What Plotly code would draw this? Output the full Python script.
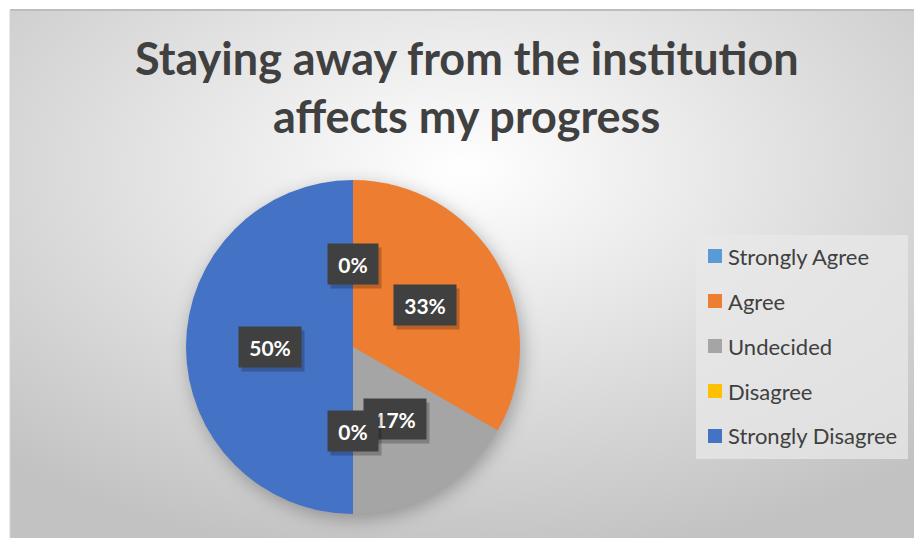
import base64
import math
import plotly.graph_objects as go

# Survey responses
categories = ["Strongly Agree", "Agree", "Undecided", "Disagree", "Strongly Disagree"]
responses = [0, 2, 1, 0, 3]
slice_colors = ["#5B9BD5", "#ED7D31", "#A5A5A5", "#FFC000", "#4472C4"]
title_lines = ["Staying away from the institution", "affects my progress"]

W, H = 914, 538
FONT = "Lato"
TEXT_COLOR = "#404040"


def px(x):
    return x / W


def py(y):
    return 1 - y / H


# chart area (pixels)
AREA_X0, AREA_Y0, AREA_X1, AREA_Y1 = 10, 10, 914, 538
# pie placement (pixels)
PIE_CX, PIE_CY, PIE_R = 353, 347, 167

total = sum(responses)
percent_labels = [f"{round(100 * v / total)}%" for v in responses]

# background: soft radial gradient with a blurred pie shadow
aw, ah = AREA_X1 - AREA_X0, AREA_Y1 - AREA_Y0
svg = (
    f'<svg xmlns="http://www.w3.org/2000/svg" width="{aw}" height="{ah}" viewBox="0 0 {aw} {ah}" preserveAspectRatio="none">'
    '<defs><radialGradient id="g" cx="0.5" cy="0.3" r="0.75">'
    '<stop offset="0" stop-color="#ffffff"/><stop offset="1" stop-color="#c2c2c2"/>'
    '</radialGradient>'
    '<filter id="b" x="-50%" y="-50%" width="200%" height="200%"><feGaussianBlur stdDeviation="9"/></filter></defs>'
    f'<rect width="{aw}" height="{ah}" fill="url(#g)"/>'
    f'<circle cx="{PIE_CX - AREA_X0 + 3}" cy="{PIE_CY - AREA_Y0 + 5}" r="{PIE_R}" fill="rgba(0,0,0,0.28)" filter="url(#b)"/>'
    '</svg>'
)
bg_uri = "data:image/svg+xml;base64," + base64.b64encode(svg.encode()).decode()

fig = go.Figure()
fig.add_trace(go.Pie(
    labels=categories,
    values=responses,
    sort=False,
    direction="clockwise",
    rotation=0,
    marker=dict(colors=slice_colors, line=dict(width=0)),
    textinfo="none",
    hoverinfo="label+percent",
    showlegend=False,
    domain=dict(x=[px(PIE_CX - PIE_R), px(PIE_CX + PIE_R)],
                y=[py(PIE_CY + PIE_R), py(PIE_CY - PIE_R)]),
))

annotations = []

# two-line chart title
for text, yc in zip(title_lines, [58, 116]):
    annotations.append(dict(
        x=px(467), y=py(yc), xref="paper", yref="paper", showarrow=False,
        xanchor="center", yanchor="middle", text=text,
        font=dict(family=FONT, size=45, color=TEXT_COLOR, weight="bold"),
    ))

# percentage labels in dark boxes, placed halfway along each slice's mid-angle
cum = 0
for v, lab in zip(responses, percent_labels):
    theta = 2 * math.pi * (cum + v / 2) / total
    cum += v
    lx = PIE_CX + 0.5 * PIE_R * math.sin(theta)
    ly = PIE_CY - 0.5 * PIE_R * math.cos(theta)
    bw = 26 + 12 * len(lab)
    # drop shadow
    annotations.append(dict(
        x=px(lx), y=py(ly), xref="paper", yref="paper", showarrow=False,
        xanchor="center", yanchor="middle",
        text="", width=bw, height=40, bgcolor="rgba(0,0,0,0.22)", borderpad=0,
        xshift=3, yshift=-4,
    ))
    annotations.append(dict(
        x=px(lx), y=py(ly), xref="paper", yref="paper", showarrow=False,
        xanchor="center", yanchor="middle",
        text=lab, width=bw, height=40, bgcolor="#404040", borderpad=0,
        font=dict(family=FONT, size=21, color="white", weight="bold"),
    ))

shapes = [
    # chart area outline (top and left edges)
    dict(type="line", xref="paper", yref="paper",
         x0=px(AREA_X0), x1=px(AREA_X1), y0=py(AREA_Y0), y1=py(AREA_Y0),
         line=dict(color="#bdbdbd", width=2), layer="above"),
    dict(type="line", xref="paper", yref="paper",
         x0=px(AREA_X0), x1=px(AREA_X0), y0=py(AREA_Y0), y1=py(AREA_Y1),
         line=dict(color="#d4d4d4", width=1), layer="above"),
    # legend box
    dict(type="rect", xref="paper", yref="paper",
         x0=px(696), x1=px(908), y0=py(459), y1=py(235),
         line=dict(width=0), fillcolor="rgba(232,232,232,0.75)", layer="below"),
]
LEG_TOP, LEG_STEP = 256, 45
for i, (name, col) in enumerate(zip(categories, slice_colors)):
    yc = LEG_TOP + i * LEG_STEP
    shapes.append(dict(type="rect", xref="paper", yref="paper",
                       x0=px(708), x1=px(722), y0=py(yc + 7), y1=py(yc - 7),
                       line=dict(width=0), fillcolor=col))
    annotations.append(dict(
        x=px(726), y=py(yc), xref="paper", yref="paper", showarrow=False,
        xanchor="left", yanchor="middle", text=name,
        font=dict(family=FONT, size=22, color=TEXT_COLOR),
    ))

fig.update_layout(
    width=W, height=H,
    margin=dict(l=0, r=0, t=0, b=0),
    paper_bgcolor="white",
    images=[dict(source=bg_uri, xref="paper", yref="paper",
                 x=px(AREA_X0), y=py(AREA_Y0), sizex=aw / W, sizey=ah / H,
                 xanchor="left", yanchor="top", sizing="stretch", layer="below")],
    shapes=shapes,
    annotations=annotations,
)

fig.write_html("out.html")
